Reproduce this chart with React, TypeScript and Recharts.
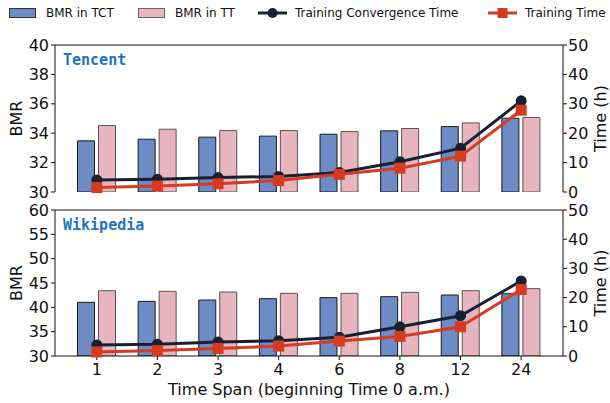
import React from 'react';
import { ComposedChart, Bar, Line, XAxis, YAxis, ReferenceLine } from 'recharts';

// time spans (hours from 0 a.m.)
const spans = ['1', '2', '3', '4', '6', '8', '12', '24'];

// Tencent panel
const tencentTct = [33.48, 33.59, 33.73, 33.8, 33.93, 34.16, 34.45, 35.02];
const tencentTt = [34.52, 34.27, 34.18, 34.18, 34.11, 34.32, 34.7, 35.07];
const tencentConv = [4.1, 4.3, 4.9, 5.3, 6.6, 10.3, 14.9, 31.0];
const tencentTrain = [1.5, 2.0, 2.8, 3.9, 6.0, 8.1, 12.2, 27.8];

// Wikipedia panel
const wikiTct = [41.03, 41.23, 41.5, 41.78, 41.99, 42.19, 42.53, 42.8];
const wikiTt = [43.42, 43.29, 43.15, 42.88, 42.88, 43.08, 43.42, 43.84];
const wikiConv = [3.8, 4.0, 4.8, 5.25, 6.4, 10.0, 13.8, 25.7];
const wikiTrain = [1.4, 1.9, 2.6, 3.4, 5.1, 6.7, 10.0, 22.8];

const tencentBmrTicks = [30, 32, 34, 36, 38, 40];
const wikiBmrTicks = [30, 35, 40, 45, 50, 55, 60];
const timeTicks = [0, 10, 20, 30, 40, 50];

const BLUE = '#6d8bc4';
const PINK = '#e8b5be';
const NAVY = '#162033';
const RED = '#d63b1f';
const TITLE = '#1e74c2';
const FONT = '"DejaVu Sans", sans-serif';

const buildRows = (tct: number[], tt: number[], conv: number[], train: number[]) =>
  spans.map((span, i) => ({ span, tct: tct[i], tt: tt[i], conv: conv[i], train: train[i] }));

const tencentData = buildRows(tencentTct, tencentTt, tencentConv, tencentTrain);
const wikiData = buildRows(wikiTct, wikiTt, wikiConv, wikiTrain);

const tickStyle = { fill: '#111', fontSize: 16, fontFamily: FONT };

const sideLabel = (text: string, x: number) => (props: any) => {
  const vb = props.viewBox || {};
  const cy = vb.y + vb.height / 2;
  return (
    <text
      x={x}
      y={cy}
      transform={`rotate(-90, ${x}, ${cy})`}
      textAnchor="middle"
      dominantBaseline="central"
      fontSize={16}
      fontFamily={FONT}
      fill="#111"
    >
      {text}
    </text>
  );
};

const squareDot = (props: any) => (
  <rect key={`sq-${props.index}`} x={props.cx - 5.5} y={props.cy - 5.5} width={11} height={11} fill={RED} />
);

interface PanelProps {
  data: ReturnType<typeof buildRows>;
  bmrDomain: [number, number];
  bmrTicks: number[];
  title: string;
  height: number;
  top: number;
  bottom: number;
  bottomAxis: boolean;
}

const Panel: React.FC<PanelProps> = ({ data, bmrDomain, bmrTicks, title, height, top, bottom, bottomAxis }) => (
  <ComposedChart
    width={610}
    height={height}
    data={data}
    margin={{ top, right: 0, bottom, left: 0 }}
    barSize={17}
    barGap={4}
    style={{ overflow: 'visible' }}
  >
    <XAxis
      dataKey="span"
      padding={{ left: 11.5, right: 11.5 }}
      height={bottomAxis ? 45 : 0}
      interval={0}
      tick={bottomAxis ? tickStyle : false}
      tickLine={bottomAxis ? { stroke: '#111' } : false}
      tickSize={4}
      tickMargin={4}
      axisLine={{ stroke: '#111' }}
      label={
        bottomAxis
          ? {
              value: 'Time Span (beginning Time 0 a.m.)',
              position: 'insideBottom',
              offset: 6,
              fontSize: 16,
              fontFamily: FONT,
              fill: '#111',
            }
          : undefined
      }
    />
    <YAxis
      yAxisId="bmr"
      orientation="left"
      width={55}
      domain={bmrDomain}
      ticks={bmrTicks}
      interval={0}
      allowDataOverflow
      tick={tickStyle}
      tickSize={4}
      tickMargin={2}
      axisLine={{ stroke: '#111' }}
      tickLine={{ stroke: '#111' }}
      label={sideLabel('BMR', 16)}
    />
    <YAxis
      yAxisId="time"
      orientation="right"
      width={47}
      domain={[0, 50]}
      ticks={timeTicks}
      interval={0}
      tick={tickStyle}
      tickSize={4}
      tickMargin={1}
      axisLine={{ stroke: '#111' }}
      tickLine={{ stroke: '#111' }}
      label={sideLabel('Time (h)', 600)}
    />
    <ReferenceLine yAxisId="bmr" y={bmrDomain[1]} stroke="#111" />
    <Bar yAxisId="bmr" dataKey="tct" fill={BLUE} stroke="#1a1a1a" strokeWidth={1} isAnimationActive={false} />
    <Bar yAxisId="bmr" dataKey="tt" fill={PINK} stroke="#555" strokeWidth={1} isAnimationActive={false} />
    <Line
      yAxisId="time"
      type="linear"
      dataKey="conv"
      stroke={NAVY}
      strokeWidth={3}
      dot={{ r: 5.5, fill: NAVY, stroke: NAVY, strokeWidth: 0 }}
      activeDot={false}
      isAnimationActive={false}
    />
    <Line
      yAxisId="time"
      type="linear"
      dataKey="train"
      stroke={RED}
      strokeWidth={3}
      dot={squareDot}
      activeDot={false}
      isAnimationActive={false}
    />
    <text x={63} y={top + 20} fontFamily='"DejaVu Sans Mono", monospace' fontWeight="bold" fontSize={15} fill={TITLE}>
      {title}
    </text>
  </ComposedChart>
);

const legendItems = [
  { label: 'BMR in TCT', kind: 'bar', fill: BLUE, edge: '#333', left: 9 },
  { label: 'BMR in TT', kind: 'bar', fill: PINK, edge: '#666', left: 138 },
  { label: 'Training Convergence Time', kind: 'circle', fill: NAVY, edge: NAVY, left: 258 },
  { label: 'Training Time', kind: 'square', fill: RED, edge: RED, left: 488 },
];

const LegendRow: React.FC = () => (
  <div style={{ position: 'absolute', left: 0, top: 0, width: 610, height: 26 }}>
    {legendItems.map((item) => (
      <div
        key={item.label}
        style={{ position: 'absolute', left: item.left, top: 4, display: 'flex', alignItems: 'center', height: 18 }}
      >
        <svg width={29} height={14} style={{ display: 'block' }}>
          {item.kind === 'bar' && <rect x={0.5} y={2.5} width={26} height={9} fill={item.fill} stroke={item.edge} />}
          {item.kind !== 'bar' && <line x1={0} x2={29} y1={7} y2={7} stroke={item.fill} strokeWidth={3} />}
          {item.kind === 'circle' && <circle cx={14.5} cy={7} r={5} fill={item.fill} />}
          {item.kind === 'square' && <rect x={9.5} y={2} width={10} height={10} fill={item.fill} />}
        </svg>
        <span style={{ marginLeft: 8, fontSize: 12, fontFamily: FONT, color: '#111', whiteSpace: 'nowrap' }}>
          {item.label}
        </span>
      </div>
    ))}
  </div>
);

export default function App() {
  return (
    <div style={{ position: 'absolute', left: 0, top: 0, width: 610, height: 403, background: '#fff' }}>
      <LegendRow />
      <div style={{ position: 'absolute', left: 0, top: 0 }}>
        <Panel data={tencentData} bmrDomain={[30, 40]} bmrTicks={tencentBmrTicks} title="Tencent" height={205} top={45} bottom={13} bottomAxis={false} />
      </div>
      <div style={{ position: 'absolute', left: 0, top: 195 }}>
        <Panel data={wikiData} bmrDomain={[30, 60]} bmrTicks={wikiBmrTicks} title="Wikipedia" height={206} top={15} bottom={0} bottomAxis />
      </div>
    </div>
  );
}
